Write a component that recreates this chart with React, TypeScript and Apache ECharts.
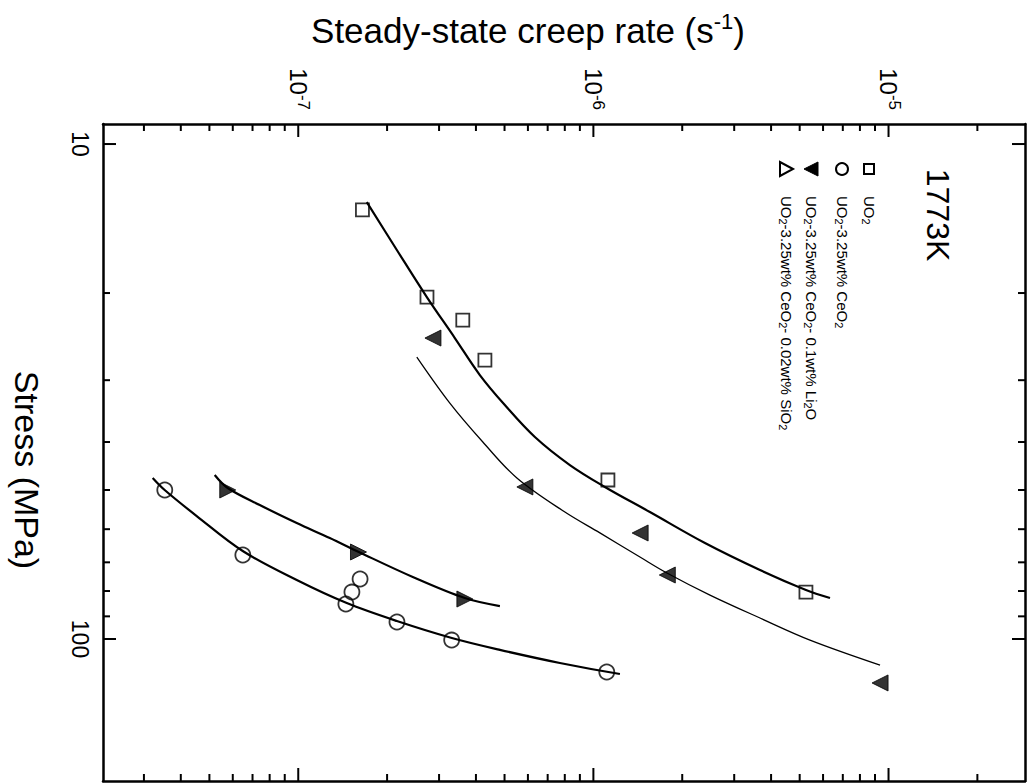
import React, { useEffect, useRef } from 'react';
import * as echarts from 'echarts';

const FONT = '"Liberation Sans", Arial, Helvetica, sans-serif';

// axis extents
const rateMin = 2.18e-8;
const rateMax = 2.9e-5;
const stressMin = 9.11;
const stressMax = 193.6;

// tick values
const rateMajorTicks = [1e-7, 1e-6, 1e-5];
const rateMinorTicks = [
  3e-8, 4e-8, 5e-8, 6e-8, 7e-8, 8e-8, 9e-8,
  2e-7, 3e-7, 4e-7, 5e-7, 6e-7, 7e-7, 8e-7, 9e-7,
  2e-6, 3e-6, 4e-6, 5e-6, 6e-6, 7e-6, 8e-6, 9e-6,
  2e-5,
];
const stressMajorTicks = [10, 100];
const stressMinorTicks = [20, 30, 40, 50, 60, 70, 80, 90];

// measured points: [steady-state creep rate (1/s), stress (MPa)]
const uo2Points = [
  [1.65e-7, 13.59], [2.73e-7, 20.38], [3.61e-7, 22.68], [4.29e-7, 27.32],
  [1.12e-6, 47.73], [5.25e-6, 80.38],
];
const ceo2Points = [
  [3.53e-8, 50.0], [6.49e-8, 67.66], [1.45e-7, 84.99], [1.52e-7, 80.38],
  [1.62e-7, 75.65], [2.16e-7, 92.4], [3.31e-7, 100.5], [1.11e-6, 116.6],
];
const li2oPoints = [
  [2.86e-7, 24.66], [5.86e-7, 49.3], [1.44e-6, 61.07], [1.78e-6, 74.26], [9.36e-6, 122.7],
];
const sio2Points = [
  [5.77e-8, 50.0], [1.6e-7, 66.72], [3.67e-7, 83.04],
];

// fitted curves
const uo2Fit = [
  [1.707e-7, 13.1], [2.158e-7, 16.37], [2.727e-7, 20.38], [3.393e-7, 24.66],
  [4.124e-7, 29.29], [5.012e-7, 33.68], [6.335e-7, 39.08], [8.325e-7, 44.52],
  [1.094e-6, 49.3], [1.554e-6, 55.4], [2.388e-6, 63.99], [3.668e-6, 72.55],
  [5.252e-6, 79.62], [6.335e-6, 82.65],
];
const li2oFit = [
  [2.522e-7, 26.94], [3.263e-7, 33.37], [4.221e-7, 39.99], [5.505e-7, 47.28],
  [8.007e-7, 55.4], [1.052e-6, 61.05], [1.438e-6, 68.29], [1.775e-6, 73.56],
  [2.483e-6, 81.52], [3.668e-6, 90.7], [5.418e-6, 100.5], [9.359e-6, 112.9],
];
const sio2Fit = [
  [5.211e-8, 46.63], [5.768e-8, 49.53], [7.406e-8, 53.62], [9.883e-8, 58.31],
  [1.279e-7, 62.52], [1.604e-7, 66.72], [2.444e-7, 74.94], [3.668e-7, 82.65],
  [4.822e-7, 85.79],
];
const ceo2Fit = [
  [3.212e-8, 47.28], [3.527e-8, 50.0], [4.529e-8, 56.44], [6.485e-8, 66.41],
  [9.883e-8, 76.0], [1.46e-7, 84.6], [2.158e-7, 91.97], [3.314e-7, 99.54],
  [4.822e-7, 105.2], [7.7e-7, 111.8], [1.23e-6, 117.7],
];

const legendLabels = [
  'UO{s|2}',
  'UO{s|2}-3.25wt% CeO{s|2}',
  'UO{s|2}-3.25wt% CeO{s|2}- 0.1wt% Li{s|2}O',
  'UO{s|2}-3.25wt% CeO{s|2}- 0.02wt% SiO{s|2}',
];

function isDecade(v: number) {
  const l = Math.log10(v);
  return Math.abs(l - Math.round(l)) < 1e-6;
}

export default function App() {
  const ref = useRef<HTMLDivElement>(null);

  useEffect(() => {
    if (!ref.current) return;
    const chart = echarts.init(ref.current, null, { renderer: 'svg' });

    const tickRender = (isX: boolean) => (params: any, api: any) => {
      const cs = params.coordSys;
      const p = api.coord([api.value(0), api.value(1)]);
      const len = api.value(2) ? 13 : 7;
      const st = { stroke: '#000', lineWidth: 2 };
      if (isX) {
        return {
          type: 'group',
          children: [
            { type: 'line', shape: { x1: p[0], y1: cs.y, x2: p[0], y2: cs.y + len }, style: st },
            { type: 'line', shape: { x1: p[0], y1: cs.y + cs.height, x2: p[0], y2: cs.y + cs.height - len }, style: st },
          ],
        };
      }
      return {
        type: 'group',
        children: [
          { type: 'line', shape: { x1: cs.x, y1: p[1], x2: cs.x + len, y2: p[1] }, style: st },
          { type: 'line', shape: { x1: cs.x + cs.width, y1: p[1], x2: cs.x + cs.width - len, y2: p[1] }, style: st },
        ],
      };
    };

    const xTickData = [
      ...rateMajorTicks.map((v) => [v, 50, 1]),
      ...rateMinorTicks.map((v) => [v, 50, 0]),
    ];
    const yTickData = [
      ...stressMajorTicks.map((v) => [1e-6, v, 1]),
      ...stressMinorTicks.map((v) => [1e-6, v, 0]),
    ];

    const fitLine = (data: number[][], width: number) => ({
      type: 'line',
      data,
      smooth: 0.35,
      symbol: 'none',
      lineStyle: { color: '#000', width },
      z: 2,
      silent: true,
    });
    const scatter = (data: number[][], symbol: string, size: number, filled: boolean, rotate = 0) => ({
      type: 'scatter',
      data,
      symbol,
      symbolSize: size,
      symbolRotate: rotate,
      itemStyle: filled
        ? { color: '#000', borderColor: '#000', borderWidth: 1 }
        : { color: 'rgba(0,0,0,0)', borderColor: '#000', borderWidth: 1.8 },
      z: 3,
      silent: true,
    });

    const legendX = [869, 842, 811, 786];
    const legendMarkerY = 169;

    const legendGraphics: any[] = [
      { type: 'rect', shape: { x: legendX[0] - 5, y: legendMarkerY - 5, width: 10, height: 10 }, style: { fill: 'none', stroke: '#000', lineWidth: 2 } },
      { type: 'circle', shape: { cx: legendX[1], cy: legendMarkerY, r: 6 }, style: { fill: 'none', stroke: '#000', lineWidth: 2 } },
      { type: 'polygon', shape: { points: [[legendX[2] - 7, legendMarkerY], [legendX[2] + 7, legendMarkerY - 7], [legendX[2] + 7, legendMarkerY + 7]] }, style: { fill: '#000', stroke: '#000', lineWidth: 1 } },
      { type: 'polygon', shape: { points: [[legendX[3] + 7, legendMarkerY], [legendX[3] - 6, legendMarkerY - 7], [legendX[3] - 6, legendMarkerY + 7]] }, style: { fill: 'none', stroke: '#000', lineWidth: 2 } },
      ...legendLabels.map((t, i) => ({
        type: 'text',
        x: legendX[i],
        y: 196,
        rotation: -Math.PI / 2,
        style: {
          text: t,
          fontSize: 15,
          lineHeight: 18,
          fontFamily: FONT,
          fill: '#000',
          align: 'left',
          verticalAlign: 'middle',
          rich: {
            s: { fontSize: 11, lineHeight: 11, verticalAlign: 'bottom', padding: [4, 0, 0, 0], fontFamily: FONT },
          },
        },
      })),
    ];

    chart.setOption({
      animation: false,
      backgroundColor: '#fff',
      grid: { left: 103, right: 8, top: 124, bottom: 3, containLabel: false },
      xAxis: [
        {
          type: 'log',
          logBase: 10,
          position: 'top',
          min: rateMin,
          max: rateMax,
          axisLine: { show: true, onZero: false, lineStyle: { color: '#000', width: 2.5 } },
          axisTick: { show: false },
          splitLine: { show: false },
          axisLabel: {
            rotate: 90,
            margin: 14,
            color: '#000',
            fontFamily: FONT,
            fontSize: 24,
            formatter: (v: number) => (isDecade(v) ? `{b|10}{s|${Math.round(Math.log10(v))}}` : ''),
            rich: {
              b: { fontSize: 24, lineHeight: 28, fontFamily: FONT, color: '#000' },
              s: { fontSize: 17, lineHeight: 17, verticalAlign: 'top', padding: [0, 0, 4, 0], fontFamily: FONT, color: '#000' },
            },
          },
        },
        {
          type: 'log',
          logBase: 10,
          position: 'bottom',
          min: rateMin,
          max: rateMax,
          axisLine: { show: true, onZero: false, lineStyle: { color: '#000', width: 2.5 } },
          axisTick: { show: false },
          axisLabel: { show: false },
          splitLine: { show: false },
        },
      ],
      yAxis: [
        {
          type: 'log',
          logBase: 10,
          position: 'left',
          inverse: true,
          min: stressMin,
          max: stressMax,
          axisLine: { show: true, onZero: false, lineStyle: { color: '#000', width: 2.5 } },
          axisTick: { show: false },
          splitLine: { show: false },
          axisLabel: {
            rotate: -90,
            margin: 12,
            color: '#000',
            fontFamily: FONT,
            fontSize: 23,
            formatter: (v: number) => (isDecade(v) ? String(Math.round(v)) : ''),
          },
        },
        {
          type: 'log',
          logBase: 10,
          position: 'right',
          inverse: true,
          min: stressMin,
          max: stressMax,
          axisLine: { show: true, onZero: false, lineStyle: { color: '#000', width: 2.5 } },
          axisTick: { show: false },
          axisLabel: { show: false },
          splitLine: { show: false },
        },
      ],
      series: [
        {
          type: 'custom',
          coordinateSystem: 'cartesian2d',
          renderItem: tickRender(true),
          data: xTickData,
          encode: { x: 0, y: 1 },
          silent: true,
          z: 5,
        },
        {
          type: 'custom',
          coordinateSystem: 'cartesian2d',
          renderItem: tickRender(false),
          data: yTickData,
          encode: { x: 0, y: 1 },
          silent: true,
          z: 5,
        },
        fitLine(uo2Fit, 2.2),
        fitLine(li2oFit, 1.3),
        fitLine(sio2Fit, 2.2),
        fitLine(ceo2Fit, 2.2),
        scatter(uo2Points, 'rect', 13, false),
        scatter(ceo2Points, 'circle', 15, false),
        scatter(li2oPoints, 'triangle', 16, true, 90),
        scatter(sio2Points, 'triangle', 16, true, -90),
      ],
      graphic: [
        {
          type: 'text',
          x: 528,
          y: 30,
          style: {
            text: 'Steady-state creep rate (s{s|-1})',
            fontSize: 35,
            lineHeight: 40,
            fontFamily: FONT,
            fill: '#000',
            align: 'center',
            verticalAlign: 'middle',
            rich: {
              s: { fontSize: 22, lineHeight: 22, verticalAlign: 'top', padding: [0, 0, 6, 0], fontFamily: FONT },
            },
          },
        },
        {
          type: 'text',
          x: 27,
          y: 470,
          rotation: -Math.PI / 2,
          style: {
            text: 'Stress (MPa)',
            fontSize: 34,
            fontFamily: FONT,
            fill: '#000',
            align: 'center',
            verticalAlign: 'middle',
          },
        },
        {
          type: 'text',
          x: 938,
          y: 215,
          rotation: -Math.PI / 2,
          style: {
            text: '1773K',
            fontSize: 32,
            fontFamily: FONT,
            fill: '#000',
            align: 'center',
            verticalAlign: 'middle',
          },
        },
        ...legendGraphics,
      ],
    });

    return () => chart.dispose();
  }, []);

  return (
    <div
      ref={ref}
      style={{ position: 'absolute', left: 0, top: 0, width: 1033, height: 784, background: '#fff' }}
    />
  );
}
